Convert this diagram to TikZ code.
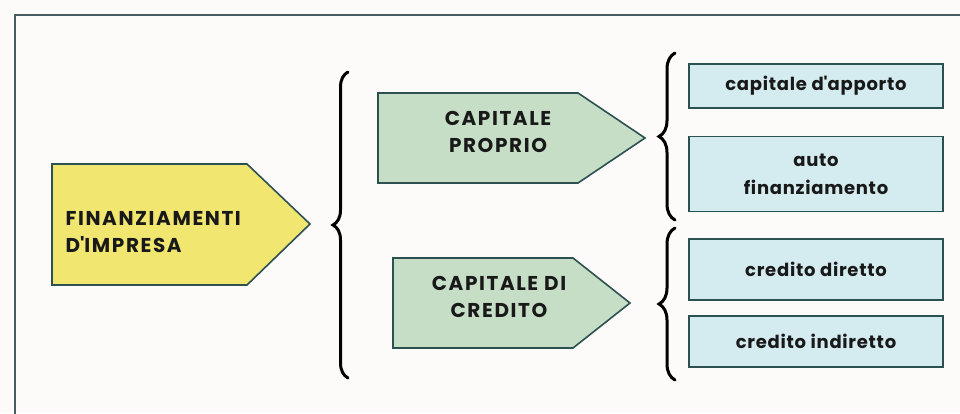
\documentclass[tikz,border=0pt]{standalone}
\usepackage{fontspec}
\setmainfont{Poppins}
\usetikzlibrary{decorations.pathreplacing}

\definecolor{frameline}{RGB}{72,92,100}
\definecolor{edge}{RGB}{45,80,80}
\definecolor{yellowfill}{RGB}{240,230,112}
\definecolor{greenfill}{RGB}{198,222,198}
\definecolor{bluefill}{RGB}{212,236,240}
\definecolor{paper}{RGB}{253,251,250}

\begin{document}
\begin{tikzpicture}[
    x=1pt, y=-1pt,
    arrowbox/.style={draw=edge, line width=1.6pt, line join=miter},
    headtext/.style={font=\bfseries\fontsize{20}{27}\selectfont\addfontfeature{LetterSpace=8},
                     align=center, text=black!90},
    item/.style={draw=edge, line width=1.6pt, fill=bluefill, inner sep=0pt,
                 font=\bfseries\fontsize{18}{28}\selectfont\addfontfeature{LetterSpace=4},
                 align=center, text=black!90},
    bracket/.style={decorate, decoration={brace, amplitude=15pt}, line width=3pt, line cap=round}
]
\useasboundingbox (0,0) rectangle (960,413);
\fill[paper] (0,0) rectangle (960,413);

% cornice
\draw[frameline, line width=2.5pt] (15,440) -- (15,15) -- (990,15);

% finanziamenti d'impresa
\filldraw[arrowbox, fill=yellowfill] (52,164) -- (247,164) -- (310,224) -- (247,285) -- (52,285) -- cycle;
\node[headtext, anchor=west, align=left] (fin) at (62,232) {FINANZIAMENTI\\D\textquotesingle IMPRESA};

% capitale proprio
\filldraw[arrowbox, fill=greenfill] (378,93) -- (578,93) -- (645,138) -- (578,183) -- (378,183) -- cycle;
\node[headtext] (proprio) at (498,132) {CAPITALE\\PROPRIO};

% capitale di credito
\filldraw[arrowbox, fill=greenfill] (393,258) -- (573,258) -- (630,303) -- (573,348) -- (393,348) -- cycle;
\node[headtext] (credito) at (499,297) {CAPITALE DI\\CREDITO};

% graffe
\coordinate (b1s) at (348,378);
\coordinate (b1e) at (348,72);
\draw[bracket] (b1s) -- (b1e);
\coordinate (b2s) at (675,220);
\coordinate (b2e) at (675,53);
\draw[bracket, decoration={amplitude=16pt}] (b2s) -- (b2e);
\coordinate (b3s) at (675,380);
\coordinate (b3e) at (675,228);
\draw[bracket, decoration={amplitude=16pt}] (b3s) -- (b3e);

% voci
\node[item, minimum width=254pt, minimum height=44pt] (apporto) at (816,86) {capitale d\textquotesingle apporto};
\node[item, minimum width=254pt, minimum height=75pt] (auto) at (816,174) {auto\\finanziamento};
\node[item, minimum width=254pt, minimum height=61pt] (diretto) at (816,269.5) {credito diretto};
\node[item, minimum width=254pt, minimum height=51pt] (indiretto) at (816,341.5) {credito indiretto};

\end{tikzpicture}
\end{document}
